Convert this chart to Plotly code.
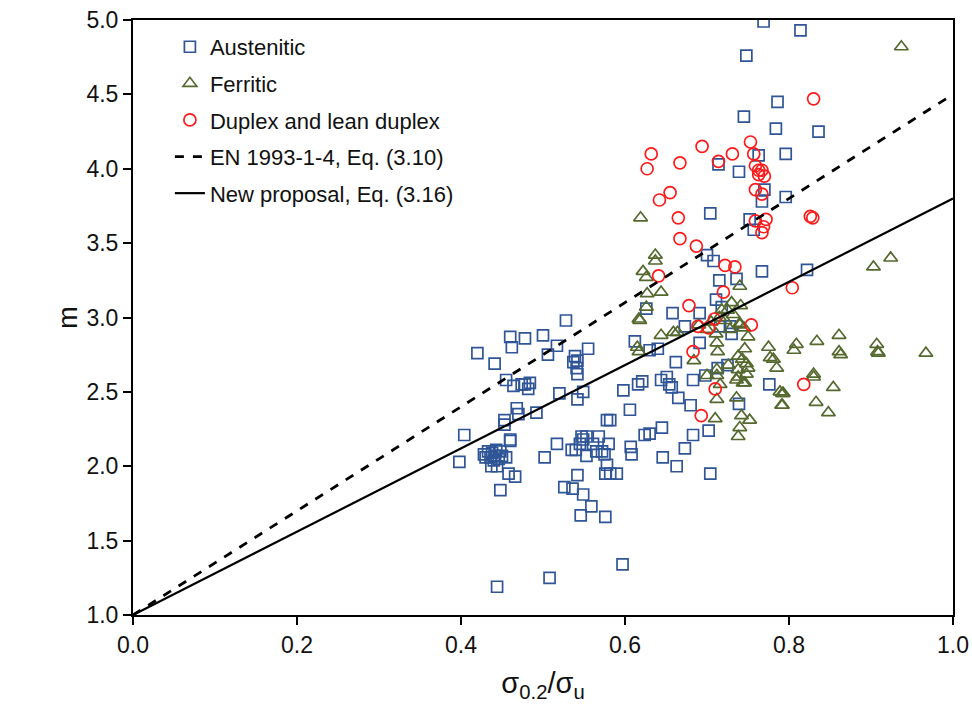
import plotly.graph_objects as go

# ---------------- data ----------------
aus_x = [0.769,0.814,0.748,0.786,0.745,0.784,0.836,0.796,0.763,0.714,0.739,0.770,0.796,0.767,0.704,0.752,0.757,
         0.700,0.708,0.767,0.822,0.715,0.736,0.711,0.718,0.658,0.691,0.626,0.673,0.716,0.728,0.730,0.691,0.612,
         0.630,0.640,0.662,0.713,0.725,0.698,0.683,0.776,0.598,0.616,0.621,0.644,0.651,0.654,0.657,0.665,0.680,
         0.606,0.739,0.645,0.630,0.624,0.683,0.702,0.673,0.607,0.608,0.646,0.663,0.704,0.590,0.582,0.576,0.597,
         0.576,0.546,0.559,0.549,0.536,0.526,0.542,0.578,0.575,0.565,0.553,0.572,0.580,0.568,0.561,0.553,0.547,
         0.549,0.545,0.540,0.535,0.517,0.502,0.460,0.398,0.404,0.437,0.444,0.458,0.466,0.448,0.508,0.444,
         0.428,0.433,0.438,0.443,0.448,0.430,0.436,0.441,0.446,0.450,0.455,0.440,
         0.528,0.460,0.478,0.500,0.462,0.517,0.420,0.441,0.506,0.555,0.539,0.537,0.542,0.541,0.542,0.455,0.464,
         0.474,0.478,0.484,0.482,0.520,0.542,0.549,0.468,0.470,0.453,0.453,0.492,0.578,0.582,0.460]
aus_m = [4.99,4.93,4.76,4.45,4.35,4.27,4.25,4.10,4.09,4.03,3.98,3.86,3.81,3.78,3.70,3.66,3.59,
         3.42,3.38,3.31,3.32,3.25,3.26,3.12,3.07,3.03,3.03,3.06,2.94,2.94,2.94,2.89,2.83,2.84,
         2.78,2.79,2.70,2.66,2.68,2.61,2.58,2.55,2.51,2.55,2.57,2.58,2.60,2.55,2.53,2.46,2.41,
         2.38,2.42,2.26,2.22,2.21,2.21,2.24,2.12,2.13,2.08,2.06,2.00,1.95,1.95,1.95,1.95,1.34,
         1.66,1.67,1.73,1.81,1.85,1.86,1.94,2.01,2.08,2.10,2.07,2.10,2.15,2.20,2.15,2.20,2.20,
         2.18,2.15,2.11,2.11,2.15,2.06,2.17,2.03,2.21,2.00,2.00,1.95,1.93,1.84,1.25,1.19,
         2.08,2.10,2.09,2.11,2.10,2.06,2.06,2.07,2.05,2.07,2.06,2.04,
         2.98,2.87,2.86,2.88,2.80,2.81,2.76,2.69,2.75,2.79,2.74,2.70,2.71,2.66,2.62,2.58,2.54,
         2.55,2.55,2.56,2.52,2.49,2.45,2.50,2.39,2.35,2.31,2.28,2.36,2.31,2.31,2.18]

fer_x = [0.937,0.619,0.637,0.637,0.622,0.626,0.627,0.644,0.626,0.617,0.740,0.730,0.725,0.741,0.740,0.718,
         0.903,0.924,0.809,0.806,0.834,0.861,0.861,0.863,0.907,0.908,0.909,0.967,0.830,0.830,0.854,0.792,
         0.833,0.793,0.792,0.848,0.618,0.644,0.659,0.664,0.617,0.615,0.684,0.700,0.711,0.712,0.713,0.740,
         0.750,0.746,0.738,0.743,0.748,0.750,0.738,0.726,0.712,0.712,0.736,0.746,0.716,0.712,0.736,0.710,
         0.742,0.752,0.740,0.738,0.775,0.777,0.781,0.785,0.789,0.791,0.744,0.748,0.738,
         0.705,0.715,0.722,0.732,0.700,0.690,0.728,0.745]
fer_m = [4.82,3.67,3.42,3.38,3.31,3.27,3.16,3.17,3.07,2.99,3.21,3.10,3.05,3.08,2.96,3.05,
         3.34,3.40,2.82,2.78,2.84,2.88,2.77,2.75,2.82,2.77,2.76,2.76,2.62,2.60,2.53,2.49,
         2.43,2.49,2.41,2.36,2.98,2.88,2.90,2.90,2.77,2.80,2.71,2.61,2.89,2.83,2.77,2.95,
         2.87,2.79,2.74,2.72,2.69,2.66,2.65,2.68,2.65,2.61,2.58,2.56,2.55,2.45,2.46,2.32,
         2.34,2.31,2.26,2.20,2.80,2.73,2.72,2.66,2.50,2.41,2.56,2.62,2.60,
         2.97,3.00,2.98,3.02,2.92,2.95,2.92,2.93]

dup_x = [0.830,0.632,0.627,0.667,0.694,0.714,0.731,0.753,0.757,0.759,0.763,0.767,0.763,0.770,0.759,0.767,
         0.655,0.642,0.826,0.829,0.804,0.818,0.665,0.667,0.687,0.641,0.722,0.734,0.720,0.678,0.709,0.754,
         0.702,0.759,0.772,0.769,0.767,0.689,0.683,0.710,0.693]
dup_m = [4.47,4.10,4.00,4.04,4.15,4.05,4.10,4.18,4.10,4.02,3.99,3.99,3.96,3.95,3.86,3.83,
         3.84,3.79,3.68,3.67,3.20,2.55,3.67,3.53,3.48,3.28,3.35,3.34,3.17,3.08,2.99,2.95,
         2.93,3.65,3.66,3.61,3.57,2.94,2.77,2.52,2.34]

line_x = [0.0, 1.0]
en_m = [1.0, 4.5]      # EN 1993-1-4, Eq. (3.10)
new_m = [1.0, 3.8]     # New proposal, Eq. (3.16)

x_ticks = [0.0, 0.2, 0.4, 0.6, 0.8, 1.0]
y_ticks = [1.0, 1.5, 2.0, 2.5, 3.0, 3.5, 4.0, 4.5, 5.0]

# ---------------- figure ----------------
FONT = "Liberation Sans, Arial, sans-serif"
fig = go.Figure()

fig.add_trace(go.Scatter(x=aus_x, y=aus_m, mode="markers", name="Austenitic", legendgroup="a",
                         marker=dict(symbol="square-open", size=11, color="#2F5597", line=dict(width=1.7))))
fig.add_trace(go.Scatter(x=fer_x, y=fer_m, mode="markers", name="Ferritic", legendgroup="b",
                         marker=dict(symbol="triangle-up-open", size=12, color="#55692F", line=dict(width=1.7))))
fig.add_trace(go.Scatter(x=dup_x, y=dup_m, mode="markers", name="Duplex and lean duplex", legendgroup="c",
                         marker=dict(symbol="circle-open", size=12, color="#FF1A1A", line=dict(width=1.7))))
fig.add_trace(go.Scatter(x=line_x, y=en_m, mode="lines", name="EN 1993-1-4, Eq. (3.10)", legendgroup="d",
                         line=dict(color="black", width=2.8, dash="dash")))
fig.add_trace(go.Scatter(x=line_x, y=new_m, mode="lines", name="New proposal, Eq. (3.16)", legendgroup="e",
                         line=dict(color="black", width=2.2)))

axis_common = dict(showgrid=False, zeroline=False, showline=True, linecolor="black", linewidth=2,
                   mirror=True, ticks="outside", ticklen=8, tickwidth=2, tickcolor="black",
                   automargin=False,
                   tickfont=dict(family=FONT, size=23, color="#111"))

fig.update_layout(
    width=972, height=711,
    margin=dict(l=133, r=19, t=20, b=96),
    plot_bgcolor="white", paper_bgcolor="white",
    font=dict(family=FONT, color="#111"),
    xaxis=dict(range=[0, 1.0], tickvals=x_ticks, ticktext=[f"{v:.1f}" for v in x_ticks],
               title=dict(text="σ<sub>0.2</sub>/σ<sub>u</sub>", font=dict(family=FONT, size=29), standoff=16),
               **axis_common),
    yaxis=dict(range=[1.0, 5.0], tickvals=y_ticks, ticktext=[f"{v:.1f}" for v in y_ticks],
               title=dict(text="m", font=dict(family=FONT, size=27), standoff=1),
               **axis_common),
    legend=dict(x=0.045, y=0.99, xanchor="left", yanchor="top", bgcolor="rgba(0,0,0,0)",
                font=dict(family=FONT, size=22, color="#111"), traceorder="grouped",
                tracegroupgap=5),
    showlegend=True,
)

fig.write_html("out.html")
